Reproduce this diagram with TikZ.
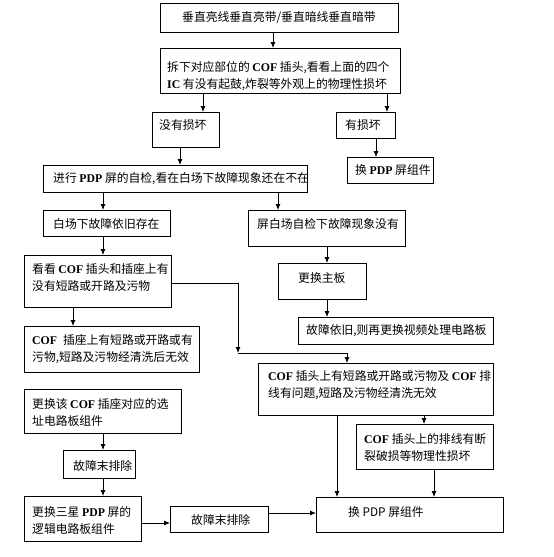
\documentclass[tikz,border=0pt]{standalone}
\usepackage{fontspec}
\setmainfont{Noto Sans CJK SC}
\newfontfamily\latf{Liberation Serif}
\newcommand\lt[1]{{\latf\bfseries #1}}
\usetikzlibrary{arrows.meta}
\begin{document}
\begin{tikzpicture}[x=1pt,y=-1pt,
  bx/.style={draw,line width=0.8pt,inner sep=0pt,anchor=north west},
  tx/.style={inner sep=0pt,anchor=west,align=left,font=\fontsize{11.8}{17}\selectfont},
  arr/.style={-{Latex[length=6pt,width=5pt]},line width=0.8pt},
  ln/.style={line width=0.8pt}]
\useasboundingbox (0,0) rectangle (554,557);
% boxes
\node[bx,minimum width=238,minimum height=29] (b1) at (160,3) {};
\node[bx,minimum width=240,minimum height=45] (b2) at (160,48) {};
\node[bx,minimum width=67,minimum height=35] (b3) at (152,112) {};
\node[bx,minimum width=59,minimum height=26] (b4) at (336,112) {};
\node[bx,minimum width=86,minimum height=26] (b5) at (347,157) {};
\node[bx,minimum width=264,minimum height=27] (b6) at (43,165) {};
\node[bx,minimum width=127,minimum height=26] (b7) at (43,210) {};
\node[bx,minimum width=157,minimum height=36] (b8) at (248,210) {};
\node[bx,minimum width=147,minimum height=52] (b9) at (24,255) {};
\node[bx,minimum width=88,minimum height=36] (b10) at (278,263) {};
\node[bx,minimum width=195,minimum height=27] (b11) at (298,317) {};
\node[bx,minimum width=175,minimum height=46] (b12) at (24,326) {};
\node[bx,minimum width=235,minimum height=52] (b13) at (258,363) {};
\node[bx,minimum width=157,minimum height=44] (b14) at (24,389) {};
\node[bx,minimum width=72,minimum height=28] (b15) at (63,450) {};
\node[bx,minimum width=117,minimum height=45] (b16) at (24,496) {};
\node[bx,minimum width=98,minimum height=26] (b17) at (170,506) {};
\node[bx,minimum width=187,minimum height=35] (b18) at (316,497) {};
\node[bx,minimum width=137,minimum height=45] (b19) at (356,424) {};
% texts
\node[tx] (t1) at (182,18) {垂直亮线垂直亮带/垂直暗线垂直暗带};
\node[tx] (t2) at (167,76.5) {拆下对应部位的 \lt{COF} 插头,看看上面的四个\\\lt{IC} 有没有起鼓,炸裂等外观上的物理性损坏};
\node[tx] (t3) at (159,125) {没有损坏};
\node[tx] (t4) at (345,125) {有损坏};
\node[tx] (t5) at (355,170) {换 \lt{PDP} 屏组件};
\node[tx] (t6) at (53,179) {进行 \lt{PDP} 屏的自检,看在白场下故障现象还在不在};
\node[tx] (t7) at (53,224) {白场下故障依旧存在};
\node[tx] (t8) at (257,224) {屏白场自检下故障现象没有};
\node[tx] (t9) at (32,277.5) {看看 \lt{COF} 插头和插座上有\\没有短路或开路及污物};
\node[tx] (t10) at (298,278) {更换主板};
\node[tx] (t11) at (306,331) {故障依旧,则再更换视频处理电路板};
\node[tx] (t12) at (32,349) {\lt{COF}\enspace 插座上有短路或开路或有\\污物,短路及污物经清洗后无效};
\node[tx] (t13) at (268,385) {\lt{COF} 插头上有短路或开路或污物及 \lt{COF} 排\\线有问题,短路及污物经清洗无效};
\node[tx] (t14) at (32,412) {更换该 \lt{COF} 插座对应的选\\址电路板组件};
\node[tx] (t15) at (73,466) {故障末排除};
\node[tx] (t16) at (32,520) {更换三星 \lt{PDP} 屏的\\逻辑电路板组件};
\node[tx] (t17) at (191,520) {故障末排除};
\node[tx] (t18) at (348,512) {换 PDP 屏组件};
\node[tx] (t19) at (364,448) {\lt{COF} 插头上的排线有断\\裂破损等物理性损坏};
% guide coordinates
\coordinate (x273) at (273,0);
\coordinate (x203) at (203,0);
\coordinate (x387) at (387,0);
\coordinate (x376) at (376,0);
\coordinate (x180) at (180,0);
\coordinate (x103) at (103,0);
\coordinate (x278) at (278,0);
\coordinate (x327) at (327,0);
\coordinate (x73) at (73,0);
\coordinate (x337) at (337,0);
\coordinate (x424) at (424,0);
\coordinate (x434) at (434,0);
\coordinate (y283) at (0,283);
\coordinate (y523) at (0,523);
\coordinate (y513) at (0,513);
\coordinate (j1) at (238,283);
\coordinate (j2) at (238,353);
\coordinate (j3) at (347,353);
% connectors
\draw[arr] (x273 |- b1.south) -- (x273 |- b2.north);
\draw[arr] (x203 |- b2.south) -- (x203 |- b3.north);
\draw[arr] (x387 |- b2.south) -- (x387 |- b4.north);
\draw[arr] (x376 |- b4.south) -- (x376 |- b5.north);
\draw[arr] (x180 |- b3.south) -- (x180 |- b6.north);
\draw[arr] (x103 |- b6.south) -- (x103 |- b7.north);
\draw[arr] (x278 |- b6.south) -- (x278 |- b8.north);
\draw[arr] (x103 |- b7.south) -- (x103 |- b9.north);
\draw[arr] (x327 |- b8.south) -- (x327 |- b10.north);
\draw[arr] (x327 |- b10.south) -- (x327 |- b11.north);
\draw[arr] (b9.east |- y283) -- (j1) -- (j2);
\draw[arr] (j2) -- (j3) -- (j3 |- b13.north);
\draw[arr] (x73 |- b9.south) -- (x73 |- b12.north);
\draw[arr] (x103 |- b14.south) -- (x103 |- b15.north);
\draw[arr] (x103 |- b15.south) -- (x103 |- b16.north);
\draw[arr] (b16.east |- y523) -- (b17.west |- y523);
\draw[arr] (b17.east |- y513) -- (b18.west |- y513);
\draw[arr] (x337 |- b13.south) -- (x337 |- b18.north);
\draw[arr] (x424 |- b13.south) -- (x424 |- b19.north);
\draw[arr] (x434 |- b19.south) -- (x434 |- b18.north);
\end{tikzpicture}
\end{document}
